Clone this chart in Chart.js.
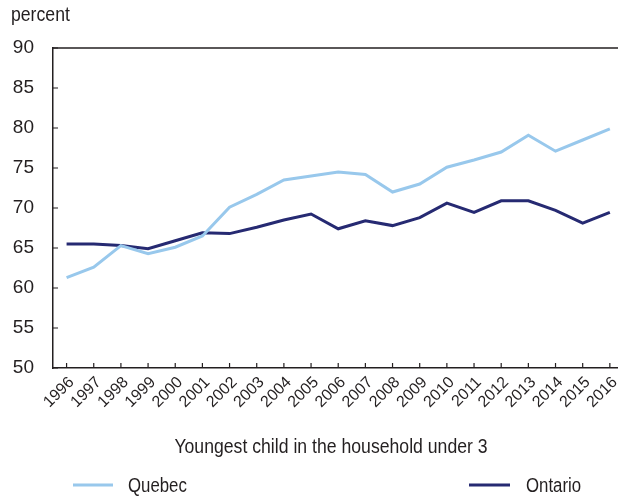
<!DOCTYPE html>
<html>
<head>
<meta charset="utf-8">
<script src="https://cdn.jsdelivr.net/npm/chart.js@4.4.1/dist/chart.umd.min.js"></script>
<style>
  html, body { margin: 0; padding: 0; background: #ffffff; overflow: hidden; }
  #wrap { width: 618px; height: 497px; position: relative; }
</style>
</head>
<body>
<div id="wrap"><canvas id="c" width="618" height="497"></canvas></div>
<script>
// ---- data ----
const years = [1996, 1997, 1998, 1999, 2000, 2001, 2002, 2003, 2004, 2005, 2006,
               2007, 2008, 2009, 2010, 2011, 2012, 2013, 2014, 2015, 2016];
const quebec = [61.3, 62.6, 65.3, 64.3, 65.1, 66.5, 70.1, 71.7, 73.5, 74.0, 74.5,
                74.2, 72.0, 73.0, 75.1, 76.0, 77.0, 79.1, 77.1, 78.5, 79.9];
const ontario = [65.5, 65.5, 65.3, 64.9, 65.9, 66.9, 66.8, 67.6, 68.5, 69.25, 67.4,
                 68.4, 67.8, 68.8, 70.6, 69.45, 70.9, 70.9, 69.7, 68.1, 69.45];
const yTicks = [50, 55, 60, 65, 70, 75, 80, 85, 90];
const yUnitLabel = 'percent';
const xAxisTitle = 'Youngest child in the household under 3';
const seriesNames = ['Quebec', 'Ontario'];

const FONT = "'Liberation Sans', Arial, sans-serif";
const TEXT = '#231f20';
const AXIS = '#231f20';
const C_QC = '#98c8ec';
const C_ON = '#262a72';
const NARROW = 0.84;

function narrowText(ctx, text, x, y, align, size) {
  ctx.save();
  ctx.font = size + 'px ' + FONT;
  ctx.textAlign = align;
  ctx.textBaseline = 'alphabetic';
  ctx.translate(x, y);
  ctx.scale(NARROW, 1);
  ctx.fillText(text, 0, 0);
  ctx.restore();
}

const extras = {
  id: 'extras',
  afterDraw(chart) {
    const ctx = chart.ctx;
    const a = chart.chartArea;
    const xs = chart.scales.x, ys = chart.scales.y;
    ctx.save();
    // top frame line
    ctx.strokeStyle = AXIS;
    ctx.lineWidth = 1.5;
    ctx.beginPath();
    ctx.moveTo(a.left, a.top);
    ctx.lineTo(chart.width, a.top);
    ctx.stroke();
    // inward tick marks
    ctx.lineWidth = 1.2;
    ctx.beginPath();
    yTicks.forEach(v => {
      const py = ys.getPixelForValue(v);
      ctx.moveTo(a.left, py);
      ctx.lineTo(a.left + 5, py);
    });
    years.forEach(v => {
      const px = xs.getPixelForValue(v);
      ctx.moveTo(px, a.bottom);
      ctx.lineTo(px, a.bottom - 5);
    });
    ctx.stroke();
    ctx.fillStyle = TEXT;
    // unit label
    narrowText(ctx, yUnitLabel, 11, 21, 'left', 21);
    // x axis title
    narrowText(ctx, xAxisTitle, 331, 453, 'center', 21);
    // legend
    const items = [
      {name: seriesNames[0], color: C_QC, x0: 73, x1: 113, tx: 128},
      {name: seriesNames[1], color: C_ON, x0: 469, x1: 510, tx: 526}
    ];
    items.forEach(it => {
      ctx.strokeStyle = it.color;
      ctx.lineWidth = 3;
      ctx.beginPath();
      ctx.moveTo(it.x0, 485);
      ctx.lineTo(it.x1, 485);
      ctx.stroke();
      ctx.fillStyle = TEXT;
      narrowText(ctx, it.name, it.tx, 492, 'left', 20);
    });
    ctx.restore();
  }
};

new Chart(document.getElementById('c'), {
  type: 'line',
  data: {
    datasets: [
      { label: seriesNames[0], data: years.map((y, i) => ({x: y, y: quebec[i]})),
        borderColor: C_QC, backgroundColor: C_QC, borderWidth: 3, pointRadius: 0, tension: 0, fill: false },
      { label: seriesNames[1], data: years.map((y, i) => ({x: y, y: ontario[i]})),
        borderColor: C_ON, backgroundColor: C_ON, borderWidth: 3, pointRadius: 0, tension: 0, fill: false }
    ]
  },
  options: {
    responsive: false,
    animation: false,
    devicePixelRatio: 1,
    layout: { padding: { top: 48, left: 0, right: 0, bottom: 0 } },
    plugins: { legend: { display: false }, tooltip: { enabled: false }, title: { display: false } },
    scales: {
      x: {
        type: 'linear',
        min: 1995.5,
        max: 2016.3,
        afterBuildTicks: s => { s.ticks = years.map(v => ({value: v})); },
        afterFit: s => { s.height = 129; s.paddingLeft = 0; s.paddingRight = 0; },
        grid: { display: false, drawTicks: false },
        border: { display: true, color: AXIS, width: 1.5 },
        ticks: {
          autoSkip: false, maxRotation: 45, minRotation: 45, padding: 5, labelOffset: 5,
          color: TEXT, font: { family: FONT, size: 16 },
          callback: v => String(v)
        }
      },
      y: {
        min: 50,
        max: 90,
        afterBuildTicks: s => { s.ticks = yTicks.map(v => ({value: v})); },
        afterFit: s => { s.width = 53; s.paddingTop = 0; s.paddingBottom = 0; },
        grid: { display: false, drawTicks: false },
        border: { display: true, color: AXIS, width: 1.5 },
        ticks: { padding: 19, color: TEXT, font: { family: FONT, size: 19 } }
      }
    }
  },
  plugins: [extras]
});
</script>
</body>
</html>
